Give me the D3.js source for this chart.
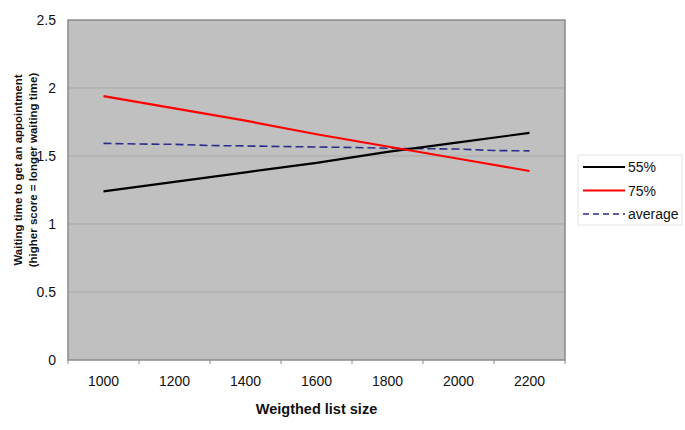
<!DOCTYPE html>
<html>
<head>
<meta charset="utf-8">
<script src="https://cdn.jsdelivr.net/npm/d3@7"></script>
<style>
  body { margin: 0; background: #fff; }
  svg { display: block; font-family: "Liberation Sans", Arial, sans-serif; }
</style>
</head>
<body>
<svg id="chart" width="685" height="430"></svg>
<script>
// Data
const listSizes = [1000, 1200, 1400, 1600, 1800, 2000, 2200];
const series55 = [1.24, 1.31, 1.38, 1.45, 1.53, 1.60, 1.67];
const series75 = [1.94, 1.85, 1.76, 1.66, 1.57, 1.48, 1.39];
const avgSizes = [1000, 1100, 1200, 1300, 1400, 1500, 1600, 1700, 1800, 1900, 2000, 2100, 2200];
const avgValues = [1.593, 1.588, 1.586, 1.577, 1.574, 1.570, 1.566, 1.563, 1.557, 1.554, 1.551, 1.540, 1.538];
const yTicks = [0, 0.5, 1, 1.5, 2, 2.5];
const legendLabels = ["55%", "75%", "average"];

const svg = d3.select("#chart");
const margin = { top: 20, left: 68 };
const plotW = 565 - margin.left;
const plotH = 360 - margin.top;

const g = svg.append("g").attr("transform", `translate(${margin.left},${margin.top})`);

// category-style axis: each label sits in the middle of a band 200 wide
const x = d3.scaleLinear().domain([900, 2300]).range([0, plotW]);
const y = d3.scaleLinear().domain([0, 2.5]).range([plotH, 0]);

g.append("rect")
  .attr("width", plotW).attr("height", plotH)
  .attr("fill", "#c0c0c0");

// gridlines
g.selectAll("line.grid")
  .data(yTicks.slice(1, -1))
  .join("line")
  .attr("class", "grid")
  .attr("x1", 0).attr("x2", plotW)
  .attr("y1", d => y(d)).attr("y2", d => y(d))
  .attr("stroke", "#a9a9a9").attr("stroke-width", 1);

g.append("rect")
  .attr("width", plotW).attr("height", plotH)
  .attr("fill", "none").attr("stroke", "#8a8a8a").attr("stroke-width", 1.5);

// y axis labels
g.selectAll("text.ytick")
  .data(yTicks)
  .join("text")
  .attr("class", "ytick")
  .attr("x", -12).attr("y", d => y(d) + 5)
  .attr("text-anchor", "end")
  .attr("font-size", 14)
  .attr("fill", "#111")
  .text(d => d);

// x axis ticks (band boundaries) and labels
const boundaries = [900].concat(listSizes.map(d => d + 100));
g.selectAll("line.xtick")
  .data(boundaries)
  .join("line")
  .attr("class", "xtick")
  .attr("x1", d => x(d)).attr("x2", d => x(d))
  .attr("y1", plotH).attr("y2", plotH + 4)
  .attr("stroke", "#8a8a8a");

g.selectAll("text.xtick")
  .data(listSizes)
  .join("text")
  .attr("class", "xtick")
  .attr("x", d => x(d)).attr("y", plotH + 26)
  .attr("text-anchor", "middle")
  .attr("font-size", 14)
  .attr("fill", "#111")
  .text(d => d);

// axis titles
g.append("text")
  .attr("x", plotW / 2).attr("y", plotH + 54)
  .attr("text-anchor", "middle")
  .attr("font-size", 14.5)
  .attr("font-weight", "bold")
  .attr("fill", "#111")
  .text("Weigthed list size");

const yTitle = svg.append("text")
  .attr("transform", "translate(22,170) rotate(-90)")
  .attr("text-anchor", "middle")
  .attr("font-size", 11.5)
  .attr("font-weight", "bold")
  .attr("fill", "#111");
yTitle.append("tspan").attr("x", 0).attr("dy", 0).text("Waiting time to get an appointment");
yTitle.append("tspan").attr("x", 0).attr("dy", 15).text("(higher score = longer waiting time)");

// lines
const line = d3.line().x(d => x(d[0])).y(d => y(d[1]));

g.append("path")
  .datum(d3.zip(avgSizes, avgValues))
  .attr("fill", "none")
  .attr("stroke", "#2b2b8c")
  .attr("stroke-width", 1.6)
  .attr("stroke-dasharray", "8 4")
  .attr("d", line);

g.append("path")
  .datum(d3.zip(listSizes, series55))
  .attr("fill", "none")
  .attr("stroke", "#000")
  .attr("stroke-width", 2.2)
  .attr("d", line);

g.append("path")
  .datum(d3.zip(listSizes, series75))
  .attr("fill", "none")
  .attr("stroke", "#ff0000")
  .attr("stroke-width", 2.2)
  .attr("d", line);

// legend
const legendStyles = [
  { color: "#000", dash: null, w: 2.2 },
  { color: "#ff0000", dash: null, w: 2.2 },
  { color: "#2b2b8c", dash: "6 4", w: 1.6 }
];
const lg = svg.append("g").attr("transform", "translate(578,155)");
lg.append("rect")
  .attr("width", 104).attr("height", 70)
  .attr("fill", "#fff").attr("stroke", "#e4e4e4");
legendLabels.forEach((lab, i) => {
  const yy = 12 + i * 23.5;
  lg.append("line")
    .attr("x1", 5).attr("x2", 47)
    .attr("y1", yy).attr("y2", yy)
    .attr("stroke", legendStyles[i].color)
    .attr("stroke-width", legendStyles[i].w)
    .attr("stroke-dasharray", legendStyles[i].dash);
  lg.append("text")
    .attr("x", 50).attr("y", yy + 5)
    .attr("font-size", 14)
    .attr("fill", "#111")
    .text(lab);
});
</script>
</body>
</html>
